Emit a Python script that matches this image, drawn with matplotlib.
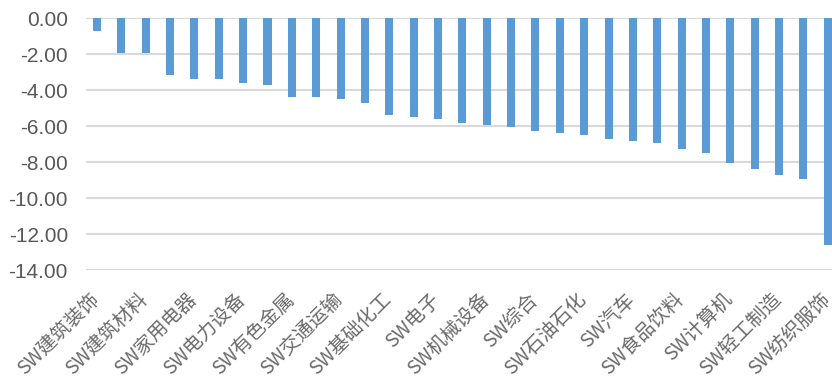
import matplotlib
matplotlib.use("Agg")
import matplotlib.pyplot as plt
import matplotlib.transforms as mtransforms
import numpy as np

categories = ["SW建筑装饰", "SW钢铁", "SW建筑材料", "SW国防军工", "SW家用电器", "SW公用事业",
              "SW电力设备", "SW农林牧渔", "SW有色金属", "SW通信", "SW交通运输", "SW煤炭",
              "SW基础化工", "SW房地产", "SW电子", "SW环保", "SW机械设备", "SW医药生物",
              "SW综合", "SW传媒", "SW石油石化", "SW商贸零售", "SW汽车", "SW社会服务",
              "SW食品饮料", "SW银行", "SW计算机", "SW非银金融", "SW轻工制造", "SW美容护理",
              "SW纺织服饰"]
values = [-0.70, -1.93, -1.93, -3.15, -3.38, -3.38, -3.60, -3.71, -4.38, -4.38, -4.49,
          -4.71, -5.38, -5.49, -5.60, -5.83, -5.94, -6.05, -6.27, -6.38, -6.50, -6.72,
          -6.83, -6.94, -7.27, -7.50, -8.05, -8.39, -8.72, -8.95, -12.62]
yticks = [0, -2, -4, -6, -8, -10, -12, -14]

W, H = 832, 383
fig = plt.figure(figsize=(W / 100, H / 100), dpi=100)
left_px, right_px, top_px, bot_px = 86, 840, 18, 270
ax = fig.add_axes([left_px / W, 1 - bot_px / H, (right_px - left_px) / W, (bot_px - top_px) / H])

x = np.arange(len(categories))
ax.bar(x, values, width=0.33, color="#5B9BD5", zorder=3)
ax.set_xlim(-0.45, len(categories) - 0.5)
ax.set_ylim(-14, 0)
ax.set_yticks(yticks)
ax.set_yticklabels([f"{v:.2f}" for v in yticks], fontsize=15, color="#595959",
                   family=["Liberation Sans", "DejaVu Sans"])
ax.yaxis.grid(True, color="#D9D9D9", linewidth=1.5, zorder=0)
ax.set_axisbelow(True)
for s in ax.spines.values():
    s.set_visible(False)
ax.tick_params(axis="both", length=0)
ax.tick_params(axis="y", pad=13)

ax.set_xticks(x[::2])
ax.set_xticklabels(categories[::2], rotation=45, ha="right", va="center", rotation_mode="anchor",
                   fontsize=14, color="#6a6a6a", family=["Noto Sans CJK SC", "DejaVu Sans"])
ax.tick_params(axis="x", pad=19)
offset = mtransforms.ScaledTranslation(-1 / 100, 0, fig.dpi_scale_trans)
for lab in ax.get_xticklabels():
    lab.set_transform(lab.get_transform() + offset)

fig.savefig("out.png", dpi=100)
